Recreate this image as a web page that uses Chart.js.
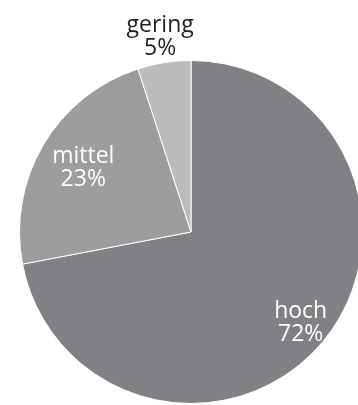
<!DOCTYPE html>
<html>
<head>
<meta charset="utf-8">
<script src="https://cdn.jsdelivr.net/npm/chart.js@4"></script>
<style>
  html, body { margin: 0; padding: 0; background: #fff; overflow: hidden; }
  #wrap { position: absolute; left: 0; top: 0; width: 382px; height: 405px; }
</style>
</head>
<body>
<div id="wrap"><canvas id="c" width="382" height="405"></canvas></div>
<script>
// Ratings split into three levels
const categories = ['hoch', 'mittel', 'gering'];
const shares = [72, 23, 5];
const sliceColors = ['#808184', '#9d9d9f', '#bbbcbe'];
const labelColors = ['#ffffff', '#ffffff', '#231f20'];
// radial position of each label, as a fraction of the outer radius
const labelRadius = [0.83, 0.73, 1.15];

const sliceLabels = {
  id: 'sliceLabels',
  afterDatasetsDraw(chart) {
    const ctx = chart.ctx;
    const meta = chart.getDatasetMeta(0);
    ctx.save();
    ctx.font = '23px "Open Sans", sans-serif';
    ctx.textAlign = 'center';
    ctx.textBaseline = 'middle';
    meta.data.forEach((arc, i) => {
      const p = arc.getProps(['x', 'y', 'startAngle', 'endAngle', 'outerRadius'], true);
      const mid = (p.startAngle + p.endAngle) / 2;
      const r = p.outerRadius * labelRadius[i];
      const x = p.x + Math.cos(mid) * r;
      const y = p.y + Math.sin(mid) * r;
      ctx.fillStyle = labelColors[i];
      ctx.fillText(categories[i], x, y - 11.5);
      ctx.fillText(shares[i] + '%', x, y + 11.5);
    });
    ctx.restore();
  }
};

new Chart(document.getElementById('c'), {
  type: 'pie',
  data: {
    labels: categories,
    datasets: [{
      data: shares,
      backgroundColor: sliceColors,
      borderColor: '#ffffff',
      borderWidth: 1
    }]
  },
  options: {
    responsive: false,
    animation: false,
    layout: { padding: { top: 60, bottom: 1, left: 0, right: 0 } },
    plugins: {
      legend: { display: false },
      tooltip: { enabled: false }
    }
  },
  plugins: [sliceLabels]
});
</script>
</body>
</html>
